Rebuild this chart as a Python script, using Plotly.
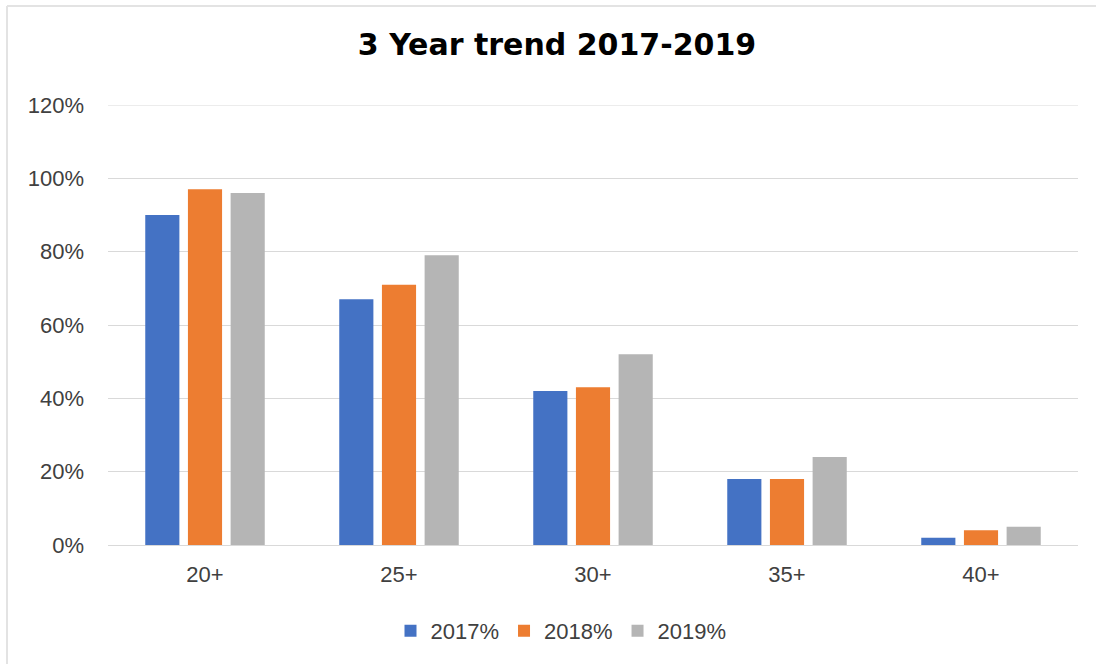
import plotly.graph_objects as go

categories = ["20+", "25+", "30+", "35+", "40+"]
series_names = ["2017%", "2018%", "2019%"]
v2017 = [0.90, 0.67, 0.42, 0.18, 0.02]
v2018 = [0.97, 0.71, 0.43, 0.18, 0.04]
v2019 = [0.96, 0.79, 0.52, 0.24, 0.05]
colors = ["#4472C4", "#ED7D31", "#B5B5B5"]
y_max = 1.2

W, H = 1096, 664
ml, mr, mt, mb = 108, 18, 105, 119
pw, ph = W - ml - mr, H - mt - mb

fig = go.Figure()
for name, vals, c in zip(series_names, [v2017, v2018, v2019], colors):
    fig.add_trace(go.Bar(x=categories, y=vals, name=name, marker=dict(color=c, line=dict(width=0))))

font_fam = "Liberation Sans, Arial, sans-serif"
txt = "#404040"


def px_x(x):
    return (x - ml) / pw


def px_y(y):
    return (H - mb - y) / ph


fig.update_layout(
    width=W, height=H,
    margin=dict(l=ml, r=mr, t=mt, b=mb),
    paper_bgcolor="white", plot_bgcolor="white",
    barmode="group", bargap=0.34, bargroupgap=0.2,
    title=dict(text="<b>3 Year trend 2017-2019</b>", x=557 / W, xanchor="center", y=1 - 44 / H, yanchor="middle",
               font=dict(family="DejaVu Sans, sans-serif", size=30, color="#000000")),
    font=dict(family=font_fam, size=22, color=txt),
    xaxis=dict(showgrid=False, showline=True, linecolor="#D9D9D9", linewidth=1, ticks="",
               tickfont=dict(size=22, color=txt), ticklabelstandoff=10),
    yaxis=dict(range=[0, y_max], dtick=0.2, tickformat=".0%", showgrid=True, gridcolor="#D9D9D9",
               zeroline=False, ticks="", tickfont=dict(size=22, color=txt), ticklabelstandoff=23),
    legend=dict(orientation="h", x=px_x(561), xanchor="center", y=px_y(631), yanchor="middle",
                font=dict(size=22, color=txt), itemwidth=30, traceorder="normal"),
    shapes=[
        dict(type="line", xref="paper", yref="y", x0=0, x1=1, y0=y_max, y1=y_max,
             line=dict(color="#D9D9D9", width=1), layer="below"),
        dict(type="line", xref="paper", yref="paper", x0=px_x(7), x1=px_x(1096), y0=px_y(6), y1=px_y(6),
             line=dict(color="#E3E3E3", width=2), layer="below"),
        dict(type="line", xref="paper", yref="paper", x0=px_x(7), x1=px_x(7), y0=px_y(6), y1=px_y(664),
             line=dict(color="#E3E3E3", width=2), layer="below"),
    ],
)
fig.write_html("out.html", config={"displayModeBar": False},
               post_script="document.body.style.margin='0';document.body.style.overflow='hidden';")
